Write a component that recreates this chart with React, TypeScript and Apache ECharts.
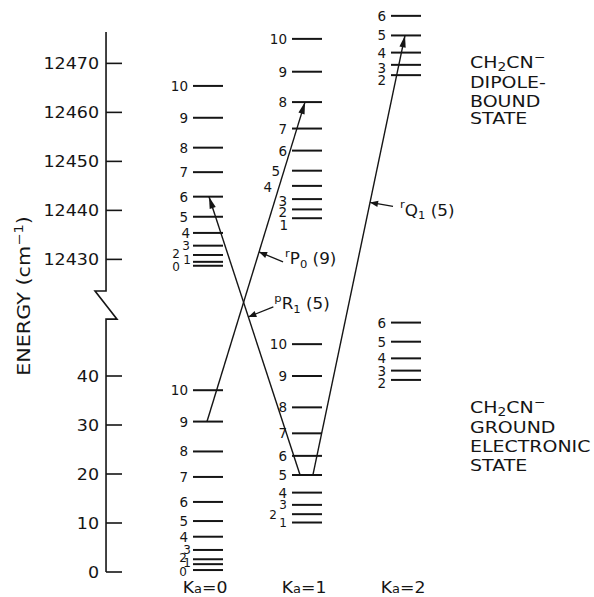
import React, { useEffect, useRef } from 'react';
import * as echarts from 'echarts';

// ---------------- data (energies in cm^-1) ----------------
const KA_COLUMNS = [0, 1, 2];

// ground electronic state levels
const K0_GROUND_J = [0, 1, 2, 3, 4, 5, 6, 7, 8, 9, 10];
const K0_GROUND_E = [0.4, 1.6, 2.6, 4.5, 7.2, 10.4, 14.3, 19.4, 24.6, 30.7, 37.1];
const K1_GROUND_J = [1, 2, 3, 4, 5, 6, 7, 8, 9, 10];
const K1_GROUND_E = [10.1, 11.8, 13.7, 16.2, 19.8, 23.7, 28.3, 33.6, 40.0, 46.5];
const K2_GROUND_J = [2, 3, 4, 5, 6];
const K2_GROUND_E = [39.2, 41.1, 43.6, 47.0, 50.9];

// dipole-bound state levels
const K0_DIPOLE_J = [0, 1, 2, 3, 4, 5, 6, 7, 8, 9, 10];
const K0_DIPOLE_E = [12428.7, 12429.5, 12430.9, 12432.8, 12435.4, 12438.7, 12442.8, 12447.8, 12452.8, 12458.9, 12465.4];
const K1_DIPOLE_J = [1, 2, 3, 4, 5, 6, 7, 8, 9, 10];
const K1_DIPOLE_E = [12438.4, 12440.2, 12442.3, 12445.0, 12448.1, 12452.2, 12456.7, 12462.1, 12468.3, 12475.0];
const K2_DIPOLE_J = [2, 3, 4, 5, 6];
const K2_DIPOLE_E = [12467.6, 12469.7, 12472.2, 12475.7, 12479.7];

// axis ticks
const LOWER_TICKS = [0, 10, 20, 30, 40];
const UPPER_TICKS = [12430, 12440, 12450, 12460, 12470];

// transitions: ground [Ka, J] -> dipole-bound [Ka, J]
const TRANSITION_FROM = [[0, 9], [1, 5], [1, 5]];
const TRANSITION_TO = [[1, 8], [0, 6], [2, 5]];
const TRANSITION_SUP = ['r', 'p', 'r'];
const TRANSITION_BRANCH = ['P', 'R', 'Q'];
const TRANSITION_SUB = ['0', '1', '1'];
const TRANSITION_J = ['9', '5', '5'];

// ---------------- layout / style ----------------
const INK = '#151515';
const FONT = "'DejaVu Sans', sans-serif";
const UPPER_SHIFT = 12366.2; // axis break: upper band drawn shifted down
const toPlot = (e: number) => (e > 1000 ? e - UPPER_SHIFT : e);
const AXIS_X = -1.03;
const AXIS_TOP = 110.2;
const BREAK_TOP = 57.35;
const BREAK_BOTTOM = 51.6;
const LEVEL_HALF = 15;
const LABEL_GAP = 5;
const LABEL_NUDGE: Record<string, [number, number]> = {
  'U0-0': [-8, 1.5], 'U0-1': [3, -1.7], 'U0-2': [-8, -1], 'U0-3': [2, 0], 'U0-4': [2, 0],
  'L0-0': [-1, 2], 'L0-1': [3, -1], 'L0-2': [-1, -1.5], 'L0-3': [3, 0],
  'L1-2': [-10, 1],
  'U1-1': [1, 7], 'U1-2': [0, 3], 'U1-3': [0, 2], 'U1-4': [-15, 1], 'U1-5': [-7, 0],
  'L2-2': [0, 3], 'U2-2': [0, 5], 'U2-3': [0, 3],
};
const SMALL_LABELS = ['U0-0', 'U0-1', 'U0-2', 'U0-3', 'L0-0', 'L0-1', 'L0-2', 'L0-3', 'L1-1', 'L1-2', 'L1-3'];
const END_SHIFT = [[-0.01, -0.02], [-0.07, 0.01], [0.06, -0.01]];
const LEADER_T = [0.531, 0.568, 0.62];
const LEADER_TAIL = [[24, 10], [25, -10], [23, 4]];
const LEADER_TEXT = [[26, 7], [26, -13], [30, 8]];

const BANDS = [
  { tag: 'L', k: KA_COLUMNS[0], J: K0_GROUND_J, E: K0_GROUND_E },
  { tag: 'L', k: KA_COLUMNS[1], J: K1_GROUND_J, E: K1_GROUND_E },
  { tag: 'L', k: KA_COLUMNS[2], J: K2_GROUND_J, E: K2_GROUND_E },
  { tag: 'U', k: KA_COLUMNS[0], J: K0_DIPOLE_J, E: K0_DIPOLE_E },
  { tag: 'U', k: KA_COLUMNS[1], J: K1_DIPOLE_J, E: K1_DIPOLE_E },
  { tag: 'U', k: KA_COLUMNS[2], J: K2_DIPOLE_J, E: K2_DIPOLE_E },
];

function energyOf(tag: string, k: number, j: number): number {
  const b = BANDS.find((x) => x.tag === tag && x.k === k)!;
  return b.E[b.J.indexOf(j)];
}

function arrowHead(tip: number[], from: number[], len: number, half: number) {
  const dx = tip[0] - from[0];
  const dy = tip[1] - from[1];
  const d = Math.hypot(dx, dy) || 1;
  const ux = dx / d;
  const uy = dy / d;
  const bx = tip[0] - ux * len;
  const by = tip[1] - uy * len;
  return {
    type: 'polygon',
    shape: { points: [[tip[0], tip[1]], [bx - uy * half, by + ux * half], [bx + uy * half, by - ux * half]] },
    style: { fill: INK, stroke: 'none' },
  };
}

const rs = (size: number, lh: number, va?: string) => ({
  fontSize: size, fontFamily: FONT, lineHeight: lh, fill: INK,
  ...(va ? { verticalAlign: va, textVerticalAlign: va } : {}),
});

function buildOption() {
  const levelData: number[][] = [];
  BANDS.forEach((b) => {
    b.J.forEach((j, i) => {
      const key = `${b.tag}${b.k}-${j}`;
      const n = LABEL_NUDGE[key] || [0, 0];
      const size = SMALL_LABELS.indexOf(key) >= 0 ? 12 : 13.5;
      levelData.push([b.k, toPlot(b.E[i]), j, n[0], n[1], size]);
    });
  });

  const tickValues = [...LOWER_TICKS, ...UPPER_TICKS];
  const tickData = tickValues.map((v) => [AXIS_X, toPlot(v)]);

  const transData = TRANSITION_FROM.map((f, i) => {
    const t = TRANSITION_TO[i];
    return [
      f[0] + END_SHIFT[i][0], toPlot(energyOf('L', f[0], f[1])),
      t[0] + END_SHIFT[i][1], toPlot(energyOf('U', t[0], t[1])),
    ];
  });

  const textBase = (extra: any) => ({
    fill: INK, fontFamily: FONT, ...extra,
  });

  const rightLabel = (x: number, y: number, text: string, rich?: any) => ({
    type: 'text', x, y, scaleX: 1.15, silent: true,
    style: textBase({
      text, fontSize: 16.5, align: 'left', verticalAlign: 'middle',
      textAlign: 'left', textVerticalAlign: 'middle', ...(rich ? { rich } : {}),
    }),
  });
  const formulaRich = { m: rs(16.5, 22), b: rs(12, 12, 'bottom'), s: rs(12, 4, 'top') };

  return {
    animation: false,
    backgroundColor: '#ffffff',
    grid: { left: 10, right: 9.8, top: 8.5, bottom: 25 },
    xAxis: { type: 'value', min: -2, max: 3.8, show: false },
    yAxis: { type: 'value', min: 0, max: 115, show: false },
    graphic: [
      {
        type: 'text', x: 23.5, y: 296, rotation: Math.PI / 2, scaleX: 1.22, silent: true,
        style: textBase({
          text: '{m|ENERGY (cm}{s|−1}{m|)}',
          fontSize: 17, align: 'center', verticalAlign: 'middle',
          textAlign: 'center', textVerticalAlign: 'middle',
          rich: { m: rs(17, 22), s: rs(12, 8, 'top') },
        }),
      },
      rightLabel(470, 62, '{m|CH}{b|2}{m|CN}{s|−}', formulaRich),
      rightLabel(470, 82, 'DIPOLE-'),
      rightLabel(470, 101, 'BOUND'),
      rightLabel(470, 118, 'STATE'),
      rightLabel(470, 407, '{m|CH}{b|2}{m|CN}{s|−}', formulaRich),
      rightLabel(470, 427, 'GROUND'),
      rightLabel(470, 446, 'ELECTRONIC'),
      rightLabel(470, 465, 'STATE'),
    ],
    series: [
      // axis line with break
      {
        type: 'custom', silent: true, data: [[AXIS_X, 0]],
        renderItem: (_p: any, api: any) => {
          const top = api.coord([AXIS_X, AXIS_TOP]);
          const bh = api.coord([AXIS_X, BREAK_TOP]);
          const bl = api.coord([AXIS_X, BREAK_BOTTOM]);
          const zero = api.coord([AXIS_X, 0]);
          return {
            type: 'polyline',
            shape: { points: [top, bh, [bh[0] - 11, bh[1]], [bl[0] + 11, bl[1]], bl, zero] },
            style: { stroke: INK, lineWidth: 1.6, fill: 'none' },
          };
        },
      },
      // ticks and tick labels
      {
        type: 'custom', silent: true, data: tickData,
        renderItem: (params: any, api: any) => {
          const p = api.coord([api.value(0), api.value(1)]);
          return {
            type: 'group',
            children: [
              { type: 'line', shape: { x1: p[0], y1: p[1], x2: p[0] + 16, y2: p[1] }, style: { stroke: INK, lineWidth: 1.6 } },
              {
                type: 'text', x: p[0] - 7, y: p[1], scaleX: 1.06,
                style: textBase({
                  text: String(tickValues[params.dataIndex]), fontSize: 16.5,
                  align: 'right', verticalAlign: 'middle', textAlign: 'right', textVerticalAlign: 'middle',
                }),
              },
            ],
          };
        },
      },
      // rotational levels
      {
        type: 'custom', silent: true, data: levelData,
        renderItem: (_p: any, api: any) => {
          const p = api.coord([api.value(0), api.value(1)]);
          const j = api.value(2);
          const size = api.value(5);
          return {
            type: 'group',
            children: [
              {
                type: 'line',
                shape: { x1: p[0] - LEVEL_HALF, y1: p[1], x2: p[0] + LEVEL_HALF, y2: p[1] },
                style: { stroke: INK, lineWidth: 2 },
              },
              {
                type: 'text', x: p[0] - LEVEL_HALF - LABEL_GAP + api.value(3), y: p[1] + api.value(4),
                style: textBase({
                  text: String(j), fontSize: size, lineHeight: Math.round(size * 0.75),
                  align: 'right', verticalAlign: 'middle', textAlign: 'right', textVerticalAlign: 'middle',
                }),
              },
            ],
          };
        },
      },
      // Ka labels
      {
        type: 'custom', silent: true, data: KA_COLUMNS.map((k) => [k, 0]),
        renderItem: (params: any, api: any) => {
          const p = api.coord([api.value(0), 0]);
          return {
            type: 'text', x: p[0] - 3, y: p[1] + 15.5, scaleX: 1.08,
            style: textBase({
              text: `{m|K}{b|a}{m|=${KA_COLUMNS[params.dataIndex]}}`, fontSize: 16,
              align: 'center', verticalAlign: 'middle', textAlign: 'center', textVerticalAlign: 'middle',
              rich: { m: rs(16, 15), b: rs(12, 11, 'bottom') },
            }),
          };
        },
      },
      // transitions with labels
      {
        type: 'custom', silent: true, data: transData,
        renderItem: (params: any, api: any) => {
          const i = params.dataIndex;
          const a = api.coord([api.value(0), api.value(1)]);
          const b = api.coord([api.value(2), api.value(3)]);
          const t = LEADER_T[i];
          const tip = [a[0] + (b[0] - a[0]) * t, a[1] + (b[1] - a[1]) * t];
          const tail = [tip[0] + LEADER_TAIL[i][0], tip[1] + LEADER_TAIL[i][1]];
          return {
            type: 'group',
            children: [
              { type: 'line', shape: { x1: a[0], y1: a[1], x2: b[0], y2: b[1] }, style: { stroke: INK, lineWidth: 1.4 } },
              arrowHead(b, a, 12, 3.2),
              { type: 'line', shape: { x1: tail[0], y1: tail[1], x2: tip[0], y2: tip[1] }, style: { stroke: INK, lineWidth: 1.3 } },
              arrowHead(tip, tail, 8, 3.2),
              {
                type: 'text', x: tip[0] + LEADER_TEXT[i][0], y: tip[1] + LEADER_TEXT[i][1], scaleX: 1.05,
                style: textBase({
                  text: `{s|${TRANSITION_SUP[i]}}{m|${TRANSITION_BRANCH[i]}}{b|${TRANSITION_SUB[i]}}{m| (${TRANSITION_J[i]})}`,
                  fontSize: 16, align: 'left', verticalAlign: 'middle', textAlign: 'left', textVerticalAlign: 'middle',
                  rich: { s: rs(11, 10, 'top'), m: rs(16, 22), b: rs(11, 10, 'bottom') },
                }),
              },
            ],
          };
        },
      },
    ],
  };
}

export default function App() {
  const ref = useRef<HTMLDivElement>(null);
  useEffect(() => {
    if (!ref.current) return;
    const chart = echarts.init(ref.current, null, { renderer: 'svg' });
    chart.setOption(buildOption() as any);
    return () => chart.dispose();
  }, []);
  return (
    <div
      ref={ref}
      style={{ position: 'fixed', left: 0, top: 0, width: 594, height: 597, background: '#fff' }}
    />
  );
}
